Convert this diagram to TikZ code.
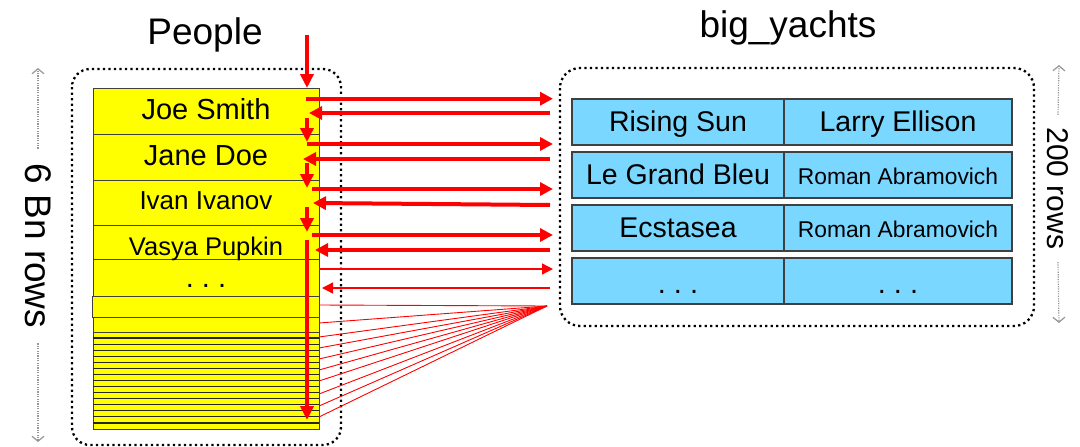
\documentclass[tikz,border=0pt]{standalone}
\usepackage{fontspec}
\setmainfont{Liberation Sans}
\usetikzlibrary{arrows.meta, calc}
\definecolor{rowyellow}{RGB}{255, 255, 0}
\definecolor{cellblue}{RGB}{122, 215, 255}
\definecolor{arrowred}{RGB}{255, 0, 0}
\definecolor{dimgray}{RGB}{150, 150, 150}
\newcommand{\fs}[1]{\fontsize{#1pt}{#1pt}\selectfont}

\begin{document}
\begin{tikzpicture}[
    x = 1pt, y = -1pt,
    dotbox/.style = {line width = 2.3, dash pattern = on 2.3pt off 3.2pt, rounded corners = 18},
    pcell/.style = {draw = black!75, line width = 0.9, fill = rowyellow},
    ycell/.style = {draw = black!75, line width = 1.3, fill = cellblue},
    txt/.style = {anchor = base, inner sep = 0},
    req/.style = {arrowred, line width = 4, -{Triangle[length = 13pt, width = 13pt]}},
    reqthin/.style = {arrowred, line width = 1.3, -{Triangle[length = 11pt, width = 11pt]}},
    scan/.style = {arrowred, line width = 4, -{Triangle[length = 14pt, width = 13pt]}},
    fanline/.style = {arrowred, line width = 0.9},
    sidearrow/.style = {dimgray, line width = 1.2, dash pattern = on 1.2pt off 1.2pt, -{Straight Barb[length = 5pt, width = 12pt]}}
]

\useasboundingbox (0,0) rectangle (1080,447);

\node[txt, font = \fs{37}] (peopletitle) at (205,45) {People};
\node[txt, font = \fs{37}] (yachtstitle) at (788,37) {big\_yachts};

% People table
\draw[dotbox] (72,69) rectangle (341,445);
\foreach \ya/\yb in {88/134, 134/180, 180/225, 225/259, 259/296, 317/332}
  \draw[pcell] (93,\ya) rectangle (319,\yb);
\draw[pcell] (92,296) rectangle (319,317);
\draw[pcell] (93,332) rectangle (319,429);
\foreach \k in {1,...,15}
  \draw[draw = black!85, line width = 1.2] (93,332+6.06*\k) -- (319,332+6.06*\k);

\node[txt, font = \fs{29}] (joe) at (206,119.5) {Joe Smith};
\node[txt, font = \fs{29}] (jane) at (206,165.5) {Jane Doe};
\node[txt, font = \fs{26}] (ivan) at (206,209) {Ivan Ivanov};
\node[txt, font = \fs{25.5}] (vasya) at (206,255) {Vasya Pupkin};
\node[txt, font = \fs{29}] (pmore) at (206,287) {.\ .\ .};

% big_yachts table
\draw[dotbox, rounded corners = 20] (560,68) rectangle (1034,326);
\foreach \ya/\yb in {99/145, 152/198, 205/251, 258/304} {
  \draw[ycell] (572,\ya) rectangle (784,\yb);
  \draw[ycell] (784,\ya) rectangle (1012,\yb);
}

\node[txt, font = \fs{28.5}] (rising) at (678,131) {Rising Sun};
\node[txt, font = \fs{28.5}] (larry) at (898,131) {Larry Ellison};
\node[txt, font = \fs{28.5}] (bleu) at (678,184) {Le Grand Bleu};
\node[txt, font = \fs{22.8}] (roman1) at (898,184) {Roman Abramovich};
\node[txt, font = \fs{28.5}] (ecstasea) at (678,237.5) {Ecstasea};
\node[txt, font = \fs{22.8}] (roman2) at (898,237.5) {Roman Abramovich};
\node[txt, font = \fs{29}] (ymore1) at (678,293) {.\ .\ .};
\node[txt, font = \fs{29}] (ymore2) at (898,293) {.\ .\ .};

% row counts
\node[font = \fs{37}, rotate = -90, inner xsep = 15pt, inner ysep = 0pt] (bnrows) at (38,246) {6 Bn rows};
\coordinate (bntop) at (38,68);
\coordinate (bnbot) at (38,442);
\draw[sidearrow] (bnrows.west) -- (bntop);
\draw[sidearrow] (bnrows.east) -- (bnbot);

\node[font = \fs{30}, rotate = -90, inner xsep = 12.5pt, inner ysep = 0pt] (hundreds) at (1058,188.5) {200 rows};
\coordinate (hdtop) at (1059,65);
\coordinate (hdbot) at (1059,323);
\draw[sidearrow] (hundreds.west) -- (hdtop);
\draw[sidearrow] (hundreds.east) -- (hdbot);

% scan down the outer table
\foreach \n/\ya/\yb in {0/35/88, 1/118/142, 2/163/188, 3/207/232, 4/240/420} {
  \coordinate (scanfrom\n) at (307,\ya);
  \coordinate (scanto\n) at (307,\yb);
  \draw[scan] (scanfrom\n) -- (scanto\n);
}

% lookups and answers
\foreach \n/\xa/\ya/\xb/\yb/\s in {1/306/98.7/553/98.7/req, 2/550/113/309/113/req,
    3/307/144/553/144/req, 4/550/159/303/159/req, 5/312/189/553/189/req,
    6/550/205/313/203/req, 7/312/235/553/235/req, 8/550/250/315/250/req,
    9/319/269/553/269/reqthin, 10/550/288/322/288/reqthin} {
  \coordinate (from\n) at (\xa,\ya);
  \coordinate (to\n) at (\xb,\yb);
  \draw[\s] (from\n) -- (to\n);
}

\coordinate (hub) at (547,306);
\foreach \y [count = \i] in {305, 323, 337, 348, 359, 370, 381, 394, 406, 417} {
  \coordinate (leaf\i) at (319,\y);
  \draw[fanline] (hub) -- (leaf\i);
}

\end{tikzpicture}
\end{document}
